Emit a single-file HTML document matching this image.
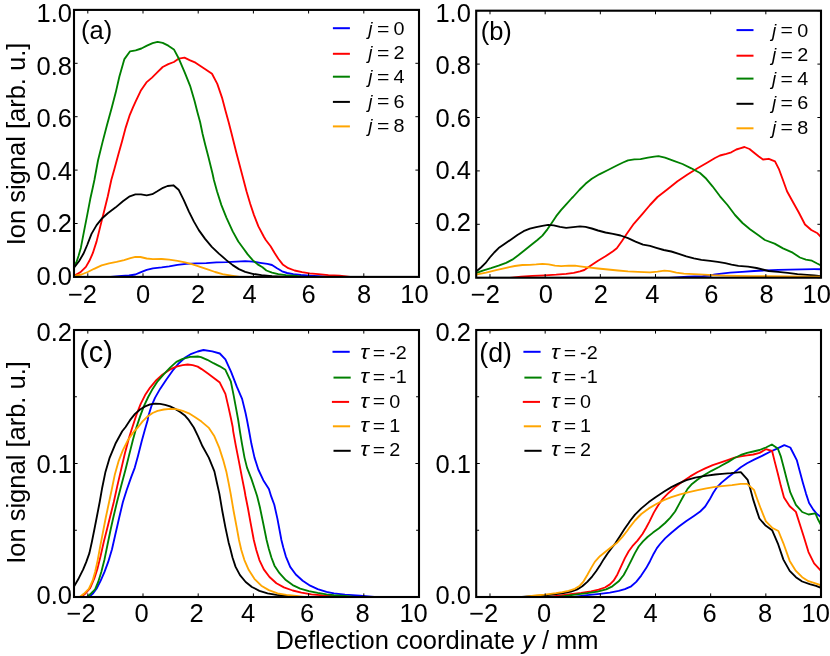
<!DOCTYPE html>
<html><head><meta charset="utf-8"><title>Deflection profiles</title>
<style>html,body{margin:0;padding:0;background:#fff;}body{width:830px;height:656px;overflow:hidden;}svg{display:block;will-change:transform;}text{font-family:"Liberation Sans",sans-serif;fill:#000;}</style></head><body>
<svg width="830" height="656" viewBox="0 0 830 656">
<rect width="830" height="656" fill="#fff"/>
<g id="panel-a">
<clipPath id="clip-a"><rect x="74" y="9.9" width="345" height="267.0"/></clipPath>
<g clip-path="url(#clip-a)" fill="none" stroke-width="1.85" stroke-linejoin="round" stroke-linecap="butt">
<polyline stroke="#0000ff" points="107.8,277.2 121.6,276.0 129.1,275.5 135.4,274.5 140.4,272.3 146.7,269.8 152.9,268.3 161.7,267.4 169.2,266.4 177.5,264.8 186.3,263.8 196.3,263.3 206.3,263.1 216.4,262.3 226.4,262.1 236.4,261.6 245.2,261.1 252.7,261.6 260.2,262.8 267.4,263.8 272.0,265.0 277.0,268.2 282.1,271.3 287.1,273.0 293.3,274.1 300.8,275.0 309.6,275.6 318.4,276.1 335.0,277.2"/>
<polyline stroke="#ff0000" points="74.0,276.0 75.3,275.1 80.3,272.3 85.9,266.9 89.4,260.8 92.8,253.2 96.6,241.4 100.3,226.4 104.1,211.3 107.8,196.3 111.3,180.0 114.4,168.9 118.2,155.1 122.0,141.4 125.7,127.6 129.5,115.7 133.2,106.9 135.7,101.4 140.7,90.8 146.4,82.4 152.0,77.6 157.0,72.6 162.7,67.0 168.3,64.1 173.9,62.0 178.9,58.6 184.5,57.7 189.6,60.1 195.5,62.7 205.7,69.4 212.0,73.8 217.3,83.9 222.0,97.6 225.7,111.4 228.6,122.0 231.3,132.5 236.3,152.5 242.5,176.0 246.5,191.3 250.2,203.8 254.0,215.1 258.4,226.4 264.0,237.0 265.8,240.0 270.6,246.3 274.3,252.5 278.3,258.8 282.7,264.4 288.3,268.2 294.6,270.5 302.1,272.1 309.6,273.3 318.4,274.2 328.4,275.1 339.7,275.7 352.2,277.2"/>
<polyline stroke="#008000" points="74.0,265.8 76.5,262.0 78.5,256.0 80.9,247.7 84.0,231.4 87.2,215.1 90.3,198.8 92.8,187.5 94.4,180.0 98.0,160.5 102.6,141.9 107.0,125.1 111.8,107.4 115.7,92.6 119.4,76.5 124.4,59.1 130.1,51.3 135.7,50.4 141.4,48.5 147.0,45.7 152.6,43.2 157.6,41.9 162.7,42.9 168.3,45.7 173.9,49.4 178.9,58.8 184.8,72.6 190.1,85.8 194.5,100.8 197.5,112.4 200.1,122.0 202.6,134.0 205.3,145.0 208.3,156.5 212.5,173.5 213.9,180.0 217.0,191.3 221.4,205.1 226.4,217.6 232.7,231.4 238.3,241.5 242.7,247.5 247.7,254.4 252.7,260.1 257.7,264.4 262.5,267.3 266.4,270.5 272.0,272.7 278.3,274.1 285.8,275.1 294.6,275.7 305.9,277.2"/>
<polyline stroke="#000000" points="74.0,267.5 74.6,266.9 79.0,261.3 83.4,253.8 87.2,245.0 91.5,233.9 96.6,225.1 101.6,218.8 107.8,213.2 115.4,207.6 122.9,201.3 129.8,196.3 135.4,194.4 141.0,194.4 146.7,195.3 152.3,194.2 157.3,191.3 163.0,187.8 167.5,186.0 173.4,185.3 178.6,189.7 183.8,200.1 188.8,211.3 193.8,221.4 198.8,230.1 205.1,238.9 211.8,246.8 218.9,253.6 226.4,260.1 232.7,265.1 238.9,269.1 245.2,271.8 252.7,273.8 261.5,275.2 272.0,276.1 290.0,277.2"/>
<polyline stroke="#ffa500" points="74.0,277.2 75.3,275.7 81.5,274.5 87.8,272.0 94.1,268.8 101.6,265.4 109.1,263.4 116.6,261.9 124.1,260.1 130.4,258.2 135.4,256.9 140.4,257.0 146.7,258.5 152.9,259.2 161.7,259.0 169.2,259.7 177.5,260.8 185.0,262.3 192.6,264.4 200.1,266.9 207.6,269.4 215.1,272.0 222.6,274.1 231.4,275.6 241.4,277.2"/>
</g>
<path d="M87.80 276.9v-3.6M87.80 9.9v3.6M143.00 276.9v-3.6M143.00 9.9v3.6M198.20 276.9v-3.6M198.20 9.9v3.6M253.40 276.9v-3.6M253.40 9.9v3.6M308.60 276.9v-3.6M308.60 9.9v3.6M363.80 276.9v-3.6M363.80 9.9v3.6M419.00 276.9v-3.6M419.00 9.9v3.6M74 276.90h3.6M419 276.90h-3.6M74 223.50h3.6M419 223.50h-3.6M74 170.10h3.6M419 170.10h-3.6M74 116.70h3.6M419 116.70h-3.6M74 63.30h3.6M419 63.30h-3.6M74 9.90h3.6M419 9.90h-3.6" stroke="#000" stroke-width="1" fill="none"/>
<rect x="74" y="9.9" width="345" height="267.0" fill="none" stroke="#000" stroke-width="2.1"/>
<text x="82.5" y="302.8" font-size="25.5" text-anchor="middle">−2</text>
<text x="143.0" y="302.8" font-size="25.5" text-anchor="middle">0</text>
<text x="198.0" y="302.8" font-size="25.5" text-anchor="middle">2</text>
<text x="249.5" y="302.8" font-size="25.5" text-anchor="middle">4</text>
<text x="308.6" y="302.8" font-size="25.5" text-anchor="middle">6</text>
<text x="364.0" y="302.8" font-size="25.5" text-anchor="middle">8</text>
<text x="414.4" y="302.8" font-size="25.5" text-anchor="middle">10</text>
<text x="72" y="284.8" font-size="25.5" text-anchor="end">0.0</text>
<text x="72" y="232.0" font-size="25.5" text-anchor="end">0.2</text>
<text x="72" y="179.5" font-size="25.5" text-anchor="end">0.4</text>
<text x="72" y="127.3" font-size="25.5" text-anchor="end">0.6</text>
<text x="72" y="74.9" font-size="25.5" text-anchor="end">0.8</text>
<text x="72" y="22.3" font-size="25.5" text-anchor="end">1.0</text>
<text x="81" y="38.9" font-size="25.5">(a)</text>
</g>
<g id="panel-b">
<clipPath id="clip-b"><rect x="476.2" y="10.7" width="344.8" height="267.0"/></clipPath>
<g clip-path="url(#clip-b)" fill="none" stroke-width="1.85" stroke-linejoin="round" stroke-linecap="butt">
<polyline stroke="#0000ff" points="668.8,278.0 687.6,276.7 702.6,276.1 710.2,275.5 715.2,274.5 721.4,273.6 730.2,272.7 742.0,271.8 754.1,271.0 766.1,270.4 778.2,269.9 790.2,269.6 802.3,269.3 814.3,269.2 821.0,269.2"/>
<polyline stroke="#ff0000" points="510.0,278.0 521.0,276.7 532.4,275.9 544.9,275.3 556.2,274.7 566.2,273.9 573.7,272.9 580.0,271.3 584.3,270.0 590.5,265.8 598.0,260.8 605.5,256.3 613.0,251.3 616.8,248.3 621.8,241.3 626.8,233.8 633.8,223.8 642.5,213.8 650.0,205.0 657.5,197.0 667.5,189.3 677.5,181.3 687.5,174.5 697.5,168.3 707.5,162.5 715.0,158.0 720.0,155.5 726.3,153.8 731.3,152.3 736.3,149.5 740.0,148.3 744.5,147.0 749.5,149.0 753.8,152.5 758.8,156.5 763.0,159.5 768.8,158.8 775.0,161.3 778.8,168.8 782.5,178.8 787.0,191.3 792.5,201.3 798.8,212.5 805.0,224.5 811.3,230.0 817.5,233.3 821.5,237.5"/>
<polyline stroke="#008000" points="476.0,273.0 477.3,272.6 483.5,270.4 491.0,268.2 498.6,265.7 506.1,262.8 512.3,259.7 518.6,255.0 524.9,250.0 531.1,245.0 537.4,240.0 542.4,235.6 547.4,229.3 551.2,223.7 556.2,216.2 561.2,209.9 566.2,204.3 571.9,198.0 573.0,197.0 579.3,190.0 585.5,183.8 591.8,178.8 599.3,174.3 608.0,170.0 616.8,165.5 623.0,162.5 628.0,160.3 634.3,159.3 640.5,159.1 648.0,157.6 654.3,156.6 658.5,156.1 665.0,157.6 673.8,160.8 682.5,164.0 691.3,168.3 700.0,173.0 706.3,178.8 712.5,186.3 720.0,196.3 727.5,205.0 735.0,215.0 742.5,223.0 750.0,229.3 758.8,235.5 764.9,240.0 774.6,243.6 783.0,248.4 792.7,252.7 799.9,257.5 805.9,259.6 811.9,260.7 816.7,263.3 821.0,265.5"/>
<polyline stroke="#000000" points="476.0,271.3 477.3,270.4 481.0,267.5 485.4,263.2 489.8,257.5 494.2,252.5 498.6,248.1 504.8,243.7 511.1,239.4 517.4,235.0 523.6,231.2 529.9,228.7 536.2,227.2 542.4,225.8 548.1,224.9 553.7,225.3 560.0,226.8 566.2,227.8 573.1,227.1 580.0,226.4 585.5,226.8 591.8,228.5 598.0,230.5 605.5,232.5 613.0,233.8 620.5,235.5 628.0,238.2 635.5,241.6 643.0,244.7 650.0,245.9 656.3,247.8 663.8,250.0 671.3,251.5 678.8,253.8 686.3,256.3 693.9,258.3 701.4,259.8 710.2,260.9 717.7,261.9 725.2,263.2 731.5,264.7 738.4,265.9 748.1,266.7 756.5,268.0 762.5,269.5 768.6,271.0 778.2,271.9 787.8,272.9 797.5,274.1 807.1,274.8 814.3,275.4 821.0,276.2"/>
<polyline stroke="#ffa500" points="476.0,274.7 477.3,274.4 486.0,272.6 496.1,270.1 506.1,267.8 514.8,266.0 522.4,265.0 529.9,264.8 536.2,264.4 542.4,263.8 548.7,264.4 555.0,265.7 561.2,266.2 568.7,265.7 575.0,265.7 580.0,266.3 588.0,267.3 598.0,268.5 608.0,269.5 618.0,270.5 628.0,271.3 638.0,271.8 650.0,272.3 657.5,271.6 664.4,270.6 670.0,271.1 676.3,272.6 683.8,273.6 693.9,274.2 703.9,274.7 712.7,275.2 725.2,275.6 737.7,275.9 754.0,276.1 766.1,276.2 790.2,276.5 814.3,276.7 821.0,276.8"/>
</g>
<path d="M489.99 277.7v-3.6M489.99 10.7v3.6M545.16 277.7v-3.6M545.16 10.7v3.6M600.33 277.7v-3.6M600.33 10.7v3.6M655.50 277.7v-3.6M655.50 10.7v3.6M710.66 277.7v-3.6M710.66 10.7v3.6M765.83 277.7v-3.6M765.83 10.7v3.6M821.00 277.7v-3.6M821.00 10.7v3.6M476.2 277.70h3.6M821 277.70h-3.6M476.2 224.30h3.6M821 224.30h-3.6M476.2 170.90h3.6M821 170.90h-3.6M476.2 117.50h3.6M821 117.50h-3.6M476.2 64.10h3.6M821 64.10h-3.6M476.2 10.70h3.6M821 10.70h-3.6" stroke="#000" stroke-width="1" fill="none"/>
<rect x="476.2" y="10.7" width="344.8" height="267.0" fill="none" stroke="#000" stroke-width="2.1"/>
<text x="485.4" y="302.8" font-size="25.5" text-anchor="middle">−2</text>
<text x="545.9" y="302.8" font-size="25.5" text-anchor="middle">0</text>
<text x="600.8" y="302.8" font-size="25.5" text-anchor="middle">2</text>
<text x="652.3" y="302.8" font-size="25.5" text-anchor="middle">4</text>
<text x="711.4" y="302.8" font-size="25.5" text-anchor="middle">6</text>
<text x="766.7" y="302.8" font-size="25.5" text-anchor="middle">8</text>
<text x="816.8" y="302.8" font-size="25.5" text-anchor="middle">10</text>
<text x="470.9" y="284.1" font-size="25.5" text-anchor="end">0.0</text>
<text x="470.9" y="231.3" font-size="25.5" text-anchor="end">0.2</text>
<text x="470.9" y="178.8" font-size="25.5" text-anchor="end">0.4</text>
<text x="470.9" y="126.6" font-size="25.5" text-anchor="end">0.6</text>
<text x="470.9" y="74.2" font-size="25.5" text-anchor="end">0.8</text>
<text x="470.9" y="21.6" font-size="25.5" text-anchor="end">1.0</text>
<text x="480.7" y="39.7" font-size="25.5">(b)</text>
</g>
<g id="panel-c">
<clipPath id="clip-c"><rect x="74" y="330" width="345" height="267"/></clipPath>
<g clip-path="url(#clip-c)" fill="none" stroke-width="1.85" stroke-linejoin="round" stroke-linecap="butt">
<polyline stroke="#0000ff" points="88.8,597.3 93.2,593.2 96.9,588.2 100.7,580.7 104.5,571.9 108.2,561.9 112.0,549.3 115.1,535.5 117.4,525.5 119.1,518.0 122.9,502.0 126.6,490.2 131.0,477.6 134.8,467.6 137.9,456.3 141.7,441.3 144.8,430.0 147.7,420.0 148.2,416.4 151.3,406.4 155.1,397.6 160.1,388.9 166.4,379.5 172.6,370.7 178.9,363.2 185.2,357.5 191.4,353.8 197.7,351.5 203.5,350.0 212.3,351.3 219.8,353.5 225.4,359.4 231.1,371.9 236.7,386.4 242.1,398.9 245.5,412.7 247.0,420.0 248.9,430.0 251.4,443.8 254.5,457.6 258.3,469.5 263.3,480.2 268.9,488.9 271.2,496.4 274.3,504.8 277.4,518.6 281.4,540.0 283.3,547.5 285.8,556.3 290.2,566.9 295.8,574.5 302.7,580.7 310.2,585.7 317.7,589.1 326.5,591.8 334.0,593.3 345.0,594.7 360.0,595.7 380.0,597.3"/>
<polyline stroke="#ff0000" points="80.7,597.3 85.7,593.2 90.1,588.2 94.4,578.2 97.6,568.1 100.7,555.6 103.8,541.8 107.0,529.3 109.8,518.0 113.8,502.0 117.2,486.4 121.0,470.1 124.8,453.8 129.1,437.5 132.3,427.5 136.3,415.2 140.7,403.9 145.1,395.1 150.1,387.6 156.3,380.1 162.6,374.4 170.1,369.4 176.4,366.7 182.7,365.1 187.7,364.5 192.7,365.1 197.7,366.6 201.6,369.1 207.9,373.6 214.2,378.2 219.8,382.6 225.4,393.9 228.3,406.4 230.8,417.7 232.7,427.0 233.2,431.3 235.7,445.1 238.9,461.4 242.0,477.6 244.5,490.2 245.5,496.0 248.0,508.5 250.5,522.3 253.8,540.0 256.3,550.0 259.4,560.1 263.8,569.4 269.5,577.0 276.4,583.2 283.9,587.4 292.7,590.5 301.4,592.6 311.5,594.3 322.7,595.4 334.0,596.1 350.0,597.3"/>
<polyline stroke="#008000" points="86.9,597.3 91.3,593.2 95.1,589.4 98.2,581.9 101.3,571.9 104.5,559.4 107.6,544.3 110.7,529.3 113.2,518.0 117.0,502.0 121.0,486.4 125.4,470.1 129.1,455.1 132.9,440.1 136.0,428.8 140.1,416.4 143.8,406.4 148.2,397.0 152.6,388.9 157.6,381.3 163.9,374.1 170.1,367.6 176.4,361.9 182.7,358.8 190.2,356.9 197.7,356.5 201.0,357.2 207.3,359.8 213.5,363.2 219.8,366.3 225.4,369.8 230.8,381.3 233.6,395.1 236.4,410.2 238.2,420.0 240.1,432.5 242.0,443.8 244.5,457.6 247.0,467.6 251.4,478.9 255.2,490.2 257.1,496.0 259.9,507.3 263.0,522.3 266.6,540.0 268.8,548.8 271.4,557.5 274.5,565.7 279.5,573.2 285.8,580.1 292.7,585.1 300.2,588.6 308.9,591.1 317.7,592.9 326.5,594.3 334.0,595.1 345.0,595.9 360.0,597.3"/>
<polyline stroke="#000000" points="74.0,586.6 78.8,578.2 83.2,569.4 86.3,561.9 89.4,553.1 91.9,541.8 94.4,529.3 96.6,518.0 99.7,502.0 102.2,487.7 105.3,472.6 109.7,457.6 115.4,443.8 122.2,431.3 125.6,427.0 130.0,420.2 135.0,413.9 140.1,409.5 145.1,406.4 150.1,404.4 155.1,403.6 160.1,403.9 165.1,404.9 170.1,406.4 175.1,408.9 180.2,412.0 185.2,415.8 188.9,420.2 193.8,427.5 198.1,436.3 202.5,446.3 208.8,457.6 214.4,471.4 216.9,482.7 219.4,493.9 222.3,511.0 225.4,527.3 228.6,542.4 230.0,547.5 232.5,557.5 235.6,566.9 240.0,575.1 245.7,582.0 251.9,587.0 259.4,590.8 267.6,593.3 276.4,594.9 286.4,596.0 300.0,597.3"/>
<polyline stroke="#ffa500" points="79.4,597.3 83.8,593.8 88.8,588.8 92.6,580.7 95.1,571.9 97.6,560.6 100.1,546.8 102.8,533.0 105.7,518.0 109.1,502.0 111.6,490.2 114.7,475.1 118.5,461.4 122.9,450.1 127.9,440.1 134.1,431.3 138.2,427.0 142.6,421.4 147.6,416.4 152.6,413.0 157.6,410.9 163.9,409.5 170.1,408.9 176.4,409.2 182.7,410.8 188.9,413.3 195.2,417.2 201.5,421.6 208.6,427.6 214.4,436.3 219.4,448.2 223.2,460.1 226.3,471.4 228.8,483.9 230.7,493.9 233.6,511.0 236.7,527.3 239.0,540.0 241.3,550.0 244.4,560.1 248.8,570.1 254.4,578.8 261.3,585.7 268.8,590.1 277.6,593.3 286.4,594.8 296.4,595.8 307.7,597.3"/>
</g>
<path d="M87.80 597v-3.6M87.80 330v3.6M143.00 597v-3.6M143.00 330v3.6M198.20 597v-3.6M198.20 330v3.6M253.40 597v-3.6M253.40 330v3.6M308.60 597v-3.6M308.60 330v3.6M363.80 597v-3.6M363.80 330v3.6M419.00 597v-3.6M419.00 330v3.6M74 597.00h3.6M419 597.00h-3.6M74 463.50h3.6M419 463.50h-3.6M74 330.00h3.6M419 330.00h-3.6M74 530.25h2.9M419 530.25h-2.9M74 396.75h2.9M419 396.75h-2.9" stroke="#000" stroke-width="1" fill="none"/>
<rect x="74" y="330" width="345" height="267" fill="none" stroke="#000" stroke-width="2.1"/>
<text x="81.1" y="622.0" font-size="25.5" text-anchor="middle">−2</text>
<text x="141.6" y="622.0" font-size="25.5" text-anchor="middle">0</text>
<text x="196.6" y="622.0" font-size="25.5" text-anchor="middle">2</text>
<text x="248.1" y="622.0" font-size="25.5" text-anchor="middle">4</text>
<text x="307.2" y="622.0" font-size="25.5" text-anchor="middle">6</text>
<text x="362.6" y="622.0" font-size="25.5" text-anchor="middle">8</text>
<text x="413.6" y="622.0" font-size="25.5" text-anchor="middle">10</text>
<text x="72" y="603.7" font-size="25.5" text-anchor="end">0.0</text>
<text x="72" y="473.0" font-size="25.5" text-anchor="end">0.1</text>
<text x="72" y="340.8" font-size="25.5" text-anchor="end">0.2</text>
<text x="79.2" y="362.4" font-size="29">(c)</text>
</g>
<g id="panel-d">
<clipPath id="clip-d"><rect x="476.2" y="330" width="344.8" height="267"/></clipPath>
<g clip-path="url(#clip-d)" fill="none" stroke-width="1.85" stroke-linejoin="round" stroke-linecap="butt">
<polyline stroke="#0000ff" points="570.0,597.3 587.3,595.1 599.9,593.8 609.9,592.6 618.7,590.9 624.9,589.2 631.2,586.3 636.2,581.9 641.2,575.6 646.2,568.1 650.0,561.2 653.7,553.7 656.9,548.1 660.1,544.0 665.1,538.4 671.4,532.8 678.9,526.5 686.4,520.9 693.9,515.9 700.2,511.5 705.2,506.5 709.6,499.6 713.3,492.7 717.1,487.1 721.5,482.6 728.0,477.2 734.3,472.4 740.8,467.2 747.1,463.3 754.6,459.4 762.1,455.8 769.6,452.0 777.1,448.6 784.3,445.2 790.3,447.5 793.4,453.5 796.9,460.4 799.7,471.1 802.8,482.4 806.0,493.6 809.1,503.0 813.5,509.9 817.2,514.3 821.0,517.0"/>
<polyline stroke="#ff0000" points="545.0,597.3 568.5,594.4 581.1,592.9 591.1,591.3 598.6,589.7 604.9,587.5 609.9,584.4 613.6,580.7 617.4,574.4 621.2,566.2 624.9,558.1 628.7,551.2 632.4,546.2 637.5,540.6 642.5,534.0 646.0,528.0 649.4,521.6 653.8,512.6 658.2,505.2 663.2,498.3 668.8,492.7 675.1,487.1 682.6,481.4 690.2,476.4 697.7,472.0 705.2,468.3 712.7,465.1 720.2,462.6 728.3,459.8 734.5,457.6 740.8,456.3 747.1,455.4 753.3,454.5 759.6,452.9 765.9,449.2 772.1,451.0 774.6,461.1 777.8,473.6 780.9,486.1 784.0,497.4 789.7,506.2 795.9,511.9 799.1,522.0 803.5,535.8 808.5,552.1 814.1,563.4 821.0,570.9"/>
<polyline stroke="#008000" points="555.0,597.3 574.8,594.7 587.3,593.2 597.4,591.7 606.1,589.4 612.4,586.3 618.7,581.3 623.7,575.0 627.4,568.1 631.2,560.6 634.9,553.1 638.7,546.5 643.0,541.4 647.5,537.0 653.0,532.6 659.0,528.2 665.1,523.0 670.1,517.8 675.1,511.5 679.5,503.4 683.9,495.2 687.6,488.9 692.0,483.9 697.7,479.5 703.9,475.2 711.5,470.8 719.0,467.0 722.0,465.3 728.3,461.9 734.5,458.0 740.8,455.0 747.1,452.9 753.3,451.5 759.6,450.0 765.9,447.5 771.9,444.5 777.8,448.5 780.9,456.7 784.0,468.6 787.2,481.1 790.3,492.4 795.9,504.9 802.2,512.0 808.5,514.5 815.4,513.4 817.8,519.0 821.0,525.0"/>
<polyline stroke="#000000" points="515.0,597.3 535.5,596.0 545.0,595.3 556.0,594.2 563.5,593.2 571.0,591.7 577.3,589.4 582.3,586.3 587.3,581.9 592.3,576.3 596.1,571.3 599.9,565.6 603.6,559.4 607.4,553.7 611.1,548.7 615.5,543.1 619.9,536.2 624.3,529.3 628.7,523.0 630.0,521.0 635.0,514.6 641.3,508.4 648.8,502.1 656.3,496.8 663.8,491.8 671.4,487.1 678.9,483.3 686.4,480.2 695.2,477.7 705.2,475.8 715.2,474.5 722.0,473.8 730.8,473.2 740.8,472.1 747.7,479.9 750.2,488.6 753.3,499.9 756.5,509.9 759.4,518.5 765.2,525.2 772.1,530.2 777.8,543.3 783.4,559.6 789.7,570.9 795.9,577.2 802.2,581.5 809.7,584.1 816.0,585.9 821.0,587.8"/>
<polyline stroke="#ffa500" points="520.5,597.3 535.5,595.5 545.0,594.6 556.0,593.2 562.3,592.2 568.5,590.9 574.8,588.8 579.8,585.7 583.6,581.3 587.3,575.0 591.1,568.1 594.8,561.9 599.9,556.2 606.1,551.2 612.4,546.2 617.4,542.4 622.4,536.8 627.4,530.5 630.0,526.8 635.0,520.5 641.3,514.0 648.8,508.4 656.3,504.0 663.8,500.2 671.4,497.1 680.1,494.3 688.9,492.1 697.7,490.2 706.4,488.3 715.2,486.8 722.0,486.2 732.0,485.2 740.8,483.9 747.1,483.9 754.0,489.9 757.1,498.7 760.8,508.7 765.9,521.4 772.1,527.7 778.4,531.0 783.4,543.3 789.7,560.9 795.9,570.9 802.2,577.2 808.5,581.2 814.7,583.2 821.0,585.3"/>
</g>
<path d="M489.99 597v-3.6M489.99 330v3.6M545.16 597v-3.6M545.16 330v3.6M600.33 597v-3.6M600.33 330v3.6M655.50 597v-3.6M655.50 330v3.6M710.66 597v-3.6M710.66 330v3.6M765.83 597v-3.6M765.83 330v3.6M821.00 597v-3.6M821.00 330v3.6M476.2 597.00h3.6M821 597.00h-3.6M476.2 463.50h3.6M821 463.50h-3.6M476.2 330.00h3.6M821 330.00h-3.6M476.2 530.25h2.9M821 530.25h-2.9M476.2 396.75h2.9M821 396.75h-2.9" stroke="#000" stroke-width="1" fill="none"/>
<rect x="476.2" y="330" width="344.8" height="267" fill="none" stroke="#000" stroke-width="2.1"/>
<text x="483.7" y="622.0" font-size="25.5" text-anchor="middle">−2</text>
<text x="544.2" y="622.0" font-size="25.5" text-anchor="middle">0</text>
<text x="599.1" y="622.0" font-size="25.5" text-anchor="middle">2</text>
<text x="650.6" y="622.0" font-size="25.5" text-anchor="middle">4</text>
<text x="709.7" y="622.0" font-size="25.5" text-anchor="middle">6</text>
<text x="765.0" y="622.0" font-size="25.5" text-anchor="middle">8</text>
<text x="815.8" y="622.0" font-size="25.5" text-anchor="middle">10</text>
<text x="470.9" y="603.7" font-size="25.5" text-anchor="end">0.0</text>
<text x="470.9" y="473.0" font-size="25.5" text-anchor="end">0.1</text>
<text x="470.9" y="340.8" font-size="25.5" text-anchor="end">0.2</text>
<text x="479.3" y="361.6" font-size="26.8">(d)</text>
</g>
<text x="437" y="648.5" font-size="25.5" text-anchor="middle">Deflection coordinate <tspan font-style="italic">y</tspan> / mm</text>
<text transform="translate(25,144) rotate(-90)" font-size="25.5" text-anchor="middle">Ion signal [arb. u.]</text>
<text transform="translate(25,462.5) rotate(-90)" font-size="25.5" text-anchor="middle">Ion signal [arb. u.]</text>
<g id="legend-a">
<line x1="332.9" x2="349.9" y1="28.2" y2="28.2" stroke="#0000ff" stroke-width="2"/>
<text x="368.30" y="34.80" font-size="19" font-style="italic">j</text>
<text transform="translate(377.00,34.50) scale(1.18,1)" font-size="18">=</text>
<text transform="translate(393.60,34.80) scale(1.1,1)" font-size="18">0</text>
<line x1="332.9" x2="349.9" y1="53.8" y2="53.8" stroke="#ff0000" stroke-width="2"/>
<text x="368.30" y="59.05" font-size="19" font-style="italic">j</text>
<text transform="translate(377.00,58.75) scale(1.18,1)" font-size="18">=</text>
<text transform="translate(393.60,59.05) scale(1.1,1)" font-size="18">2</text>
<line x1="332.9" x2="349.9" y1="76.7" y2="76.7" stroke="#008000" stroke-width="2"/>
<text x="368.30" y="83.30" font-size="19" font-style="italic">j</text>
<text transform="translate(377.00,83.00) scale(1.18,1)" font-size="18">=</text>
<text transform="translate(393.60,83.30) scale(1.1,1)" font-size="18">4</text>
<line x1="332.9" x2="349.9" y1="101.9" y2="101.9" stroke="#000000" stroke-width="2"/>
<text x="368.30" y="107.55" font-size="19" font-style="italic">j</text>
<text transform="translate(377.00,107.25) scale(1.18,1)" font-size="18">=</text>
<text transform="translate(393.60,107.55) scale(1.1,1)" font-size="18">6</text>
<line x1="332.9" x2="349.9" y1="126.4" y2="126.4" stroke="#ffa500" stroke-width="2"/>
<text x="368.30" y="131.80" font-size="19" font-style="italic">j</text>
<text transform="translate(377.00,131.50) scale(1.18,1)" font-size="18">=</text>
<text transform="translate(393.60,131.80) scale(1.1,1)" font-size="18">8</text>
</g>
<g id="legend-b">
<line x1="736.5" x2="753.5" y1="30.1" y2="30.1" stroke="#0000ff" stroke-width="2"/>
<text x="771.90" y="36.70" font-size="19" font-style="italic">j</text>
<text transform="translate(780.60,36.40) scale(1.18,1)" font-size="18">=</text>
<text transform="translate(797.20,36.70) scale(1.1,1)" font-size="18">0</text>
<line x1="736.5" x2="753.5" y1="55.7" y2="55.7" stroke="#ff0000" stroke-width="2"/>
<text x="771.90" y="60.95" font-size="19" font-style="italic">j</text>
<text transform="translate(780.60,60.65) scale(1.18,1)" font-size="18">=</text>
<text transform="translate(797.20,60.95) scale(1.1,1)" font-size="18">2</text>
<line x1="736.5" x2="753.5" y1="78.6" y2="78.6" stroke="#008000" stroke-width="2"/>
<text x="771.90" y="85.20" font-size="19" font-style="italic">j</text>
<text transform="translate(780.60,84.90) scale(1.18,1)" font-size="18">=</text>
<text transform="translate(797.20,85.20) scale(1.1,1)" font-size="18">4</text>
<line x1="736.5" x2="753.5" y1="103.8" y2="103.8" stroke="#000000" stroke-width="2"/>
<text x="771.90" y="109.45" font-size="19" font-style="italic">j</text>
<text transform="translate(780.60,109.15) scale(1.18,1)" font-size="18">=</text>
<text transform="translate(797.20,109.45) scale(1.1,1)" font-size="18">6</text>
<line x1="736.5" x2="753.5" y1="128.3" y2="128.3" stroke="#ffa500" stroke-width="2"/>
<text x="771.90" y="133.70" font-size="19" font-style="italic">j</text>
<text transform="translate(780.60,133.40) scale(1.18,1)" font-size="18">=</text>
<text transform="translate(797.20,133.70) scale(1.1,1)" font-size="18">8</text>
</g>
<g id="legend-c">
<line x1="332.5" x2="349.7" y1="351.8" y2="351.8" stroke="#0000ff" stroke-width="2"/>
<text transform="translate(360.20,359.20) scale(1.15,1)" font-size="20" font-style="italic">τ</text>
<text transform="translate(372.80,358.90) scale(1.18,1)" font-size="18">=</text>
<text transform="translate(389.20,359.20) scale(1.1,1)" font-size="18">-2</text>
<line x1="333.5" x2="350.7" y1="377.6" y2="377.6" stroke="#008000" stroke-width="2"/>
<text transform="translate(360.20,383.45) scale(1.15,1)" font-size="20" font-style="italic">τ</text>
<text transform="translate(372.80,383.15) scale(1.18,1)" font-size="18">=</text>
<text transform="translate(389.20,383.45) scale(1.1,1)" font-size="18">-1</text>
<line x1="331.9" x2="349.1" y1="401.9" y2="401.9" stroke="#ff0000" stroke-width="2"/>
<text transform="translate(360.20,407.70) scale(1.15,1)" font-size="20" font-style="italic">τ</text>
<text transform="translate(372.80,407.40) scale(1.18,1)" font-size="18">=</text>
<text transform="translate(389.20,407.70) scale(1.1,1)" font-size="18">0</text>
<line x1="332.9" x2="350.1" y1="426.3" y2="426.3" stroke="#ffa500" stroke-width="2"/>
<text transform="translate(360.20,431.95) scale(1.15,1)" font-size="20" font-style="italic">τ</text>
<text transform="translate(372.80,431.65) scale(1.18,1)" font-size="18">=</text>
<text transform="translate(389.20,431.95) scale(1.1,1)" font-size="18">1</text>
<line x1="333.5" x2="350.7" y1="450.8" y2="450.8" stroke="#000000" stroke-width="2"/>
<text transform="translate(360.20,456.20) scale(1.15,1)" font-size="20" font-style="italic">τ</text>
<text transform="translate(372.80,455.90) scale(1.18,1)" font-size="18">=</text>
<text transform="translate(389.20,456.20) scale(1.1,1)" font-size="18">2</text>
</g>
<g id="legend-d">
<line x1="523.4" x2="540.6" y1="351.8" y2="351.8" stroke="#0000ff" stroke-width="2"/>
<text transform="translate(551.10,359.20) scale(1.15,1)" font-size="20" font-style="italic">τ</text>
<text transform="translate(563.70,358.90) scale(1.18,1)" font-size="18">=</text>
<text transform="translate(580.10,359.20) scale(1.1,1)" font-size="18">-2</text>
<line x1="524.4" x2="541.6" y1="377.6" y2="377.6" stroke="#008000" stroke-width="2"/>
<text transform="translate(551.10,383.45) scale(1.15,1)" font-size="20" font-style="italic">τ</text>
<text transform="translate(563.70,383.15) scale(1.18,1)" font-size="18">=</text>
<text transform="translate(580.10,383.45) scale(1.1,1)" font-size="18">-1</text>
<line x1="522.8" x2="540.0" y1="401.9" y2="401.9" stroke="#ff0000" stroke-width="2"/>
<text transform="translate(551.10,407.70) scale(1.15,1)" font-size="20" font-style="italic">τ</text>
<text transform="translate(563.70,407.40) scale(1.18,1)" font-size="18">=</text>
<text transform="translate(580.10,407.70) scale(1.1,1)" font-size="18">0</text>
<line x1="523.8" x2="541.0" y1="426.3" y2="426.3" stroke="#ffa500" stroke-width="2"/>
<text transform="translate(551.10,431.95) scale(1.15,1)" font-size="20" font-style="italic">τ</text>
<text transform="translate(563.70,431.65) scale(1.18,1)" font-size="18">=</text>
<text transform="translate(580.10,431.95) scale(1.1,1)" font-size="18">1</text>
<line x1="524.4" x2="541.6" y1="450.8" y2="450.8" stroke="#000000" stroke-width="2"/>
<text transform="translate(551.10,456.20) scale(1.15,1)" font-size="20" font-style="italic">τ</text>
<text transform="translate(563.70,455.90) scale(1.18,1)" font-size="18">=</text>
<text transform="translate(580.10,456.20) scale(1.1,1)" font-size="18">2</text>
</g>
</svg></body></html>
